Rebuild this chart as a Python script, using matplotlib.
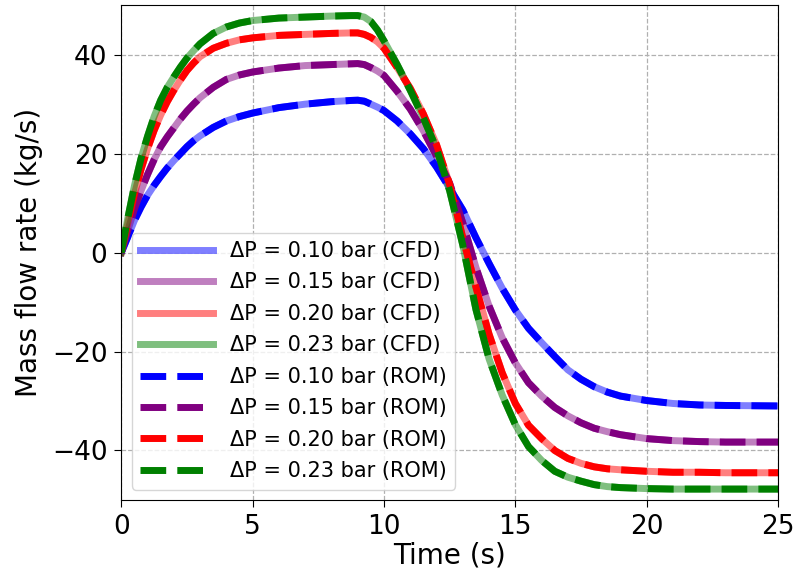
import matplotlib
matplotlib.use("Agg")
import matplotlib.pyplot as plt

# time samples (s)
t = [0, 0.25, 0.5, 0.75, 1, 1.25, 1.5, 1.75, 2, 2.25, 2.5, 2.75, 3,
     3.5, 4, 4.5, 5, 6, 7, 8, 8.75, 9, 9.25, 9.5, 9.75, 10,
     10.5, 11, 11.5, 12, 12.5, 13, 13.5, 14, 14.5, 15, 15.5, 16, 16.5,
     17, 17.5, 18, 18.5, 19, 20, 21, 22, 23, 25]

# mass flow rate (kg/s) for each pressure drop
m_010 = [0, 3.2, 6.5, 9.2, 11.6, 13.6, 15.4, 17.1, 18.6, 20.0, 21.4, 22.6, 23.6,
         25.3, 26.6, 27.5, 28.2, 29.3, 30.0, 30.5, 30.75, 30.8, 30.6, 30.0, 29.4, 28.7,
         26.6, 24.0, 21.0, 17.3, 13.0, 8.6, 3.0, -2.2, -7.2, -11.6, -15.3, -18.2, -21.0,
         -23.7, -25.6, -27.1, -28.2, -29.0, -29.9, -30.5, -30.8, -30.9, -31.0]
m_015 = [0, 4.5, 8.8, 12.5, 15.8, 18.8, 21.4, 23.4, 25.2, 27.0, 28.6, 30.0, 31.3,
         33.4, 35.0, 35.9, 36.5, 37.3, 37.8, 38.0, 38.15, 38.2, 38.0, 37.4, 36.7, 35.8,
         32.6, 29.0, 24.6, 19.5, 14.0, 6.0, -3.0, -10.8, -17.2, -22.3, -26.3, -29.0, -31.3,
         -33.0, -34.4, -35.5, -36.2, -36.8, -37.6, -38.0, -38.2, -38.3, -38.3]
m_020 = [0, 6.0, 11.8, 16.8, 21.0, 24.7, 27.8, 30.5, 32.8, 34.9, 36.8, 38.3, 39.6,
         41.3, 42.3, 43.0, 43.4, 43.9, 44.1, 44.3, 44.4, 44.4, 44.1, 43.5, 42.6, 41.3,
         37.4, 33.2, 28.0, 21.8, 13.8, 3.0, -7.0, -16.5, -24.3, -30.5, -34.9, -37.6, -40.0,
         -41.6, -42.6, -43.3, -43.7, -43.9, -44.2, -44.4, -44.4, -44.5, -44.5]
m_023 = [0, 7.0, 13.5, 19.0, 23.5, 27.5, 30.8, 33.4, 35.5, 37.5, 39.3, 40.8, 42.2,
         44.3, 45.6, 46.4, 46.9, 47.4, 47.6, 47.8, 47.9, 47.9, 47.6, 46.7, 45.0, 42.8,
         38.0, 32.8, 27.2, 21.0, 12.5, 1.5, -11.5, -21.5, -28.8, -34.8, -39.2, -42.0, -44.2,
         -45.4, -46.2, -46.9, -47.3, -47.5, -47.7, -47.8, -47.8, -47.8, -47.8]

dps = ["0.10", "0.15", "0.20", "0.23"]
colors = ["blue", "purple", "red", "green"]
series = [m_010, m_015, m_020, m_023]

fig = plt.figure(figsize=(7.98, 5.78), dpi=100)
ax = fig.add_axes([0.152, 0.135, 0.823, 0.856])

# CFD underneath (faded), ROM dashed on top
for dp, c, m in zip(dps, colors, series):
    ax.plot(t, m, color=c, lw=5, alpha=0.5, label=f"ΔP = {dp} bar (CFD)")
for dp, c, m in zip(dps, colors, series):
    ax.plot(t, m, color=c, lw=5, ls="--", label=f"ΔP = {dp} bar (ROM)")

ax.set_xlim(0, 25)
ax.set_ylim(-50, 50)
ax.set_xticks([0, 5, 10, 15, 20, 25])
ax.set_yticks([-40, -20, 0, 20, 40])
ax.grid(True, ls="--", color="#b0b0b0", lw=0.9)
ax.tick_params(labelsize=19, length=5, pad=5)
ax.set_xlabel("Time (s)", fontsize=20, labelpad=1)
ax.set_ylabel("Mass flow rate (kg/s)", fontsize=20, labelpad=6)
ax.legend(loc="lower left", fontsize=15, handlelength=3.5, labelspacing=0.55)

fig.savefig("out.png", dpi=100)
